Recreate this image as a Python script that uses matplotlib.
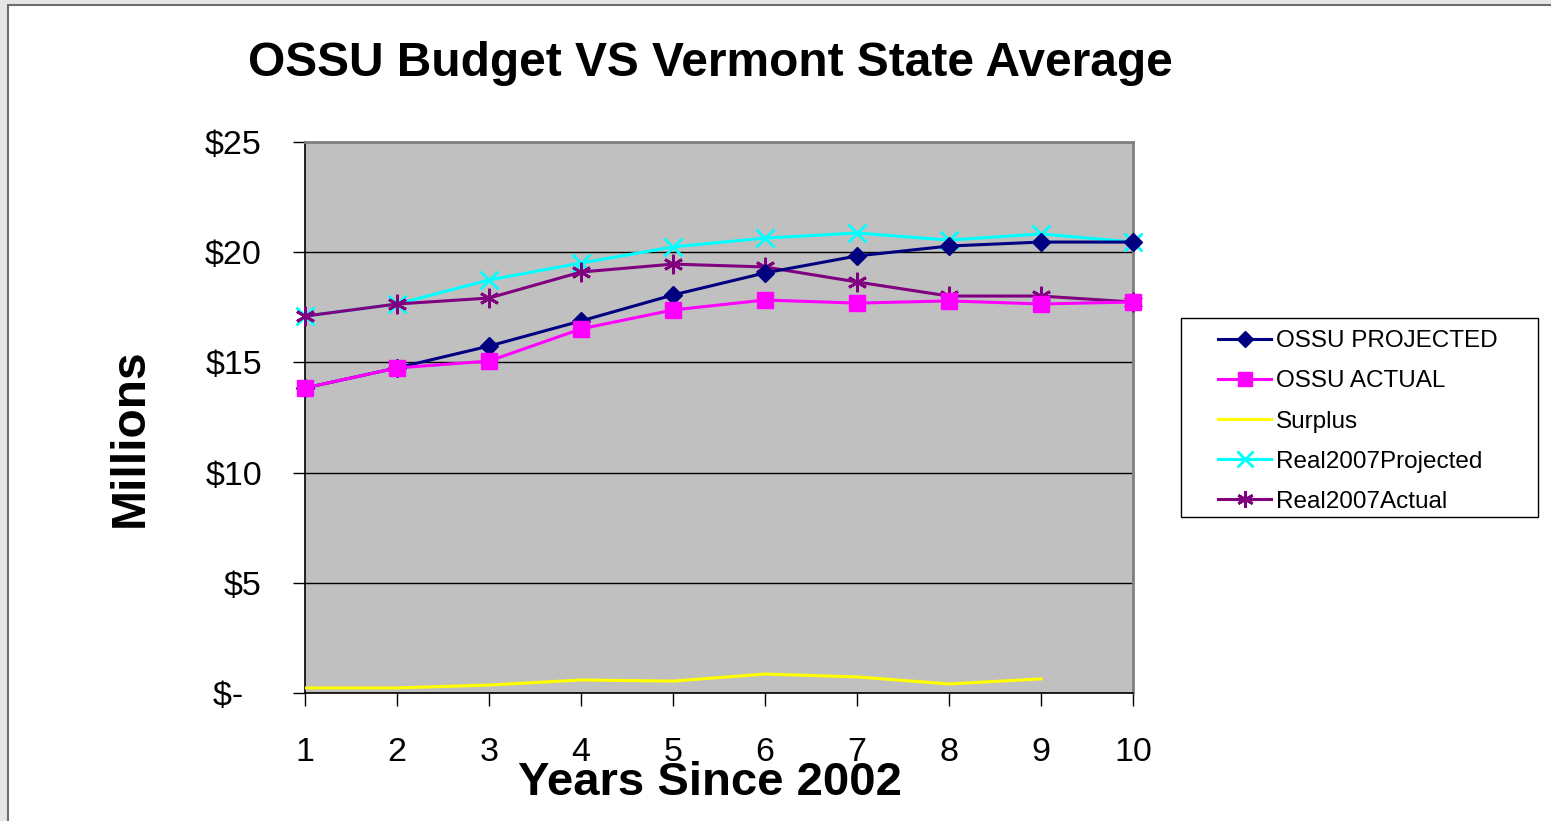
import matplotlib
matplotlib.use("Agg")
import matplotlib.pyplot as plt
from matplotlib.patches import Rectangle
import numpy as np

plt.rcParams['font.family'] = ['Liberation Sans', 'DejaVu Sans']
plt.rcParams['text.parse_math'] = False

years = [1, 2, 3, 4, 5, 6, 7, 8, 9, 10]
ossu_projected = [13.84, 14.75, 15.74, 16.88, 18.06, 19.06, 19.83, 20.28, 20.46, 20.46]
ossu_actual = [13.84, 14.75, 15.06, 16.52, 17.38, 17.83, 17.69, 17.79, 17.65, 17.74]
surplus = [0.23, 0.23, 0.36, 0.59, 0.54, 0.86, 0.73, 0.41, 0.64, np.nan]
real2007_projected = [17.10, 17.65, 18.74, 19.51, 20.24, 20.64, 20.87, 20.55, 20.83, 20.46]
real2007_actual = [17.10, 17.65, 17.92, 19.10, 19.46, 19.33, 18.65, 18.01, 18.01, 17.74]
ytick_vals = [0, 5, 10, 15, 20, 25]
ytick_labels = ['$-  ', '$5', '$10', '$15', '$20', '$25']

W, H = 1551, 821
fig = plt.figure(figsize=(W / 100, H / 100), dpi=100, facecolor='#e6e6e6')
fig.patches.append(Rectangle((8 / W, -0.05), 1.1, (H - 5) / H + 0.05,
                             transform=fig.transFigure, facecolor='white',
                             edgecolor='#6e6e6e', linewidth=1.5, zorder=-10))

ax = fig.add_axes([305 / W, 1 - 693 / H, (1133 - 305) / W, (693 - 142) / H])
ax.set_facecolor('#c0c0c0')

lw = 2.2
ax.plot(years, surplus, color='#ffff00', lw=lw, label='Surplus', zorder=3)
ax.plot(years, real2007_projected, color='#00ffff', lw=lw, marker='x', ms=13, mew=2,
        label='Real2007Projected', zorder=4, clip_on=False)
ax.plot(years, real2007_actual, color='#800080', lw=lw, marker=(6, 2, 0), ms=14, mew=2,
        label='Real2007Actual', zorder=5, clip_on=False)
ax.plot(years, ossu_projected, color='#000080', lw=lw, marker='D', ms=9,
        label='OSSU PROJECTED', zorder=6, clip_on=False)
ax.plot(years, ossu_actual, color='#ff00ff', lw=lw, marker='s', ms=12,
        label='OSSU ACTUAL', zorder=7, clip_on=False)

ax.set_xlim(1, 10)
ax.set_ylim(0, 25)
ax.set_xticks(years)
ax.set_xticklabels([str(y) for y in years])
ax.set_yticks(ytick_vals)
ax.set_yticklabels(ytick_labels)
ax.yaxis.grid(True, color='black', lw=1)
ax.set_axisbelow(True)
ax.tick_params(axis='both', labelsize=24.5, direction='out', length=9, width=1, color='black')
ax.tick_params(axis='x', pad=22.5)
ax.tick_params(axis='y', pad=22)

for s in ['top', 'right']:
    ax.spines[s].set_color('#808080')
    ax.spines[s].set_linewidth(2)
for s in ['left', 'bottom']:
    ax.spines[s].set_color('black')
    ax.spines[s].set_linewidth(1.2)

ax.set_xlabel('Years Since 2002', fontsize=34, fontweight='bold')
ax.xaxis.set_label_coords((710 - 305) / 828, (693 - 783) / 551)
ax.xaxis.label.set_va('center')
ax.set_ylabel('Millions', fontsize=34.5, fontweight='bold')
ax.yaxis.set_label_coords((130 - 305) / 828, (693 - 438) / 551)
ax.yaxis.label.set_va('center')

fig.text(710 / W, 1 - 64 / H, 'OSSU Budget VS Vermont State Average',
         fontsize=34.5, fontweight='bold', ha='center', va='center')

# legend frame
fig.patches.append(Rectangle((1181 / W, 1 - 517 / H), (1538 - 1181) / W, (517 - 318) / H,
                             transform=fig.transFigure, facecolor='white',
                             edgecolor='black', linewidth=1, zorder=1))

order = ['OSSU PROJECTED', 'OSSU ACTUAL', 'Surplus', 'Real2007Projected', 'Real2007Actual']
handles, labels = ax.get_legend_handles_labels()
hmap = dict(zip(labels, handles))
leg = fig.legend([hmap[k] for k in order], order, loc='upper left',
                 bbox_to_anchor=(1218 / W, 1 - 330 / H), fontsize=17.5,
                 frameon=False, handlelength=2.2, handletextpad=0.2, labelspacing=0.75,
                 borderpad=0, borderaxespad=0, markerscale=0.85)
leg.set_zorder(2)

fig.savefig('out.png', dpi=100, facecolor=fig.get_facecolor())
